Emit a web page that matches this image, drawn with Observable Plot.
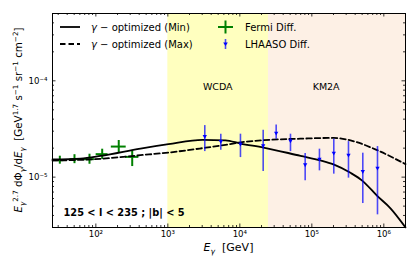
<!DOCTYPE html>
<html><head><meta charset="utf-8">
<script src="https://cdn.jsdelivr.net/npm/d3@7"></script>
<script src="https://cdn.jsdelivr.net/npm/@observablehq/plot@0.6"></script>
<style>body{margin:0;background:#fff} #chart svg{font-family:"DejaVu Sans",sans-serif;overflow:visible}</style>
</head><body><div id="chart"></div>
<script>
// ---- data ----
const minCurveE    = [25, 61.2, 116, 417, 1021, 3029, 6320, 10210, 21300, 69570, 131900, 199800, 344200, 505200, 808600, 1.237e6, 2e6];
const minCurveFlux = [1.53e-5, 1.56e-5, 1.66e-5, 1.98e-5, 2.20e-5, 2.44e-5, 2.41e-5, 2.23e-5, 2.03e-5, 1.663e-5, 1.493e-5, 1.357e-5, 1.108e-5, 9.15e-6, 6.39e-6, 4.75e-6, 3.01e-6];
const maxCurveE    = [25, 116, 417, 1021, 3029, 6320, 10210, 21300, 69570, 199800, 344200, 808600, 2e6];
const maxCurveFlux = [1.486e-5, 1.548e-5, 1.69e-5, 1.799e-5, 1.999e-5, 2.163e-5, 2.296e-5, 2.419e-5, 2.507e-5, 2.556e-5, 2.407e-5, 1.905e-5, 1.364e-5];

const fermiE    = [31.6, 50.5, 81.6, 122.5, 208, 320];
const fermiElo  = [27.8, 43.8, 69.5, 101, 164, 258];
const fermiEhi  = [35.9, 58.3, 95.8, 148, 264, 396];
const fermiFlux = [1.50e-5, 1.537e-5, 1.537e-5, 1.732e-5, 2.077e-5, 1.623e-5];
const fermiLo   = [1.363e-5, 1.38e-5, 1.36e-5, 1.53e-5, 1.80e-5, 1.288e-5];
const fermiHi   = [1.65e-5, 1.71e-5, 1.73e-5, 1.95e-5, 2.40e-5, 1.874e-5];

const lhaasoE    = [3260, 5440, 10200, 21100, 31970, 50520, 80800, 127600, 201800, 322900, 510400, 816600];
const lhaasoFlux = [2.638e-5, 2.339e-5, 2.199e-5, 2.112e-5, 2.86e-5, 2.379e-5, 1.341e-5, 1.537e-5, 1.773e-5, 1.69e-5, 1.143e-5, 1.24e-5];
const lhaasoHi   = [3.43e-5, 2.793e-5, 2.793e-5, 3.073e-5, 3.487e-5, 2.793e-5, 1.756e-5, 1.952e-5, 2.478e-5, 2.339e-5, 1.773e-5, 2.077e-5];
const lhaasoLo   = [1.842e-5, 1.905e-5, 1.596e-5, 1.143e-5, 2.478e-5, 1.842e-5, 9.15e-6, 1.162e-5, 1.074e-5, 9.76e-6, 5.32e-6, 4.06e-6];

const bandNames = ["WCDA", "KM2A"];
const bandStart = [1e3, 2.5e4];
const bandEnd   = [2.5e4, 2e6];
const bandLabelE = [4940, 1.58e5];
const bandLabelFlux = 8.6e-5;

const xMajor = [1e2, 1e3, 1e4, 1e5, 1e6];
const xMajorLabels = ["10²", "10³", "10⁴", "10⁵", "10⁶"];
const yMajor = [1e-5, 1e-4];
const yMajorLabels = ["10⁻⁵", "10⁻⁴"];
const regionText = "125 < l < 235 ; |b| < 5";

// ---- tables ----
const minCurve = minCurveE.map((e, i) => ({e, f: minCurveFlux[i]}));
const maxCurve = maxCurveE.map((e, i) => ({e, f: maxCurveFlux[i]}));
const fermi = fermiE.map((e, i) => ({e, lo: fermiElo[i], hi: fermiEhi[i], f: fermiFlux[i], flo: fermiLo[i], fhi: fermiHi[i]}));
const lhaaso = lhaasoE.map((e, i) => ({e, f: lhaasoFlux[i], lo: lhaasoLo[i], hi: lhaasoHi[i]}));
const bands = bandNames.map((n, i) => ({n, x1: bandStart[i], x2: bandEnd[i], lx: bandLabelE[i]}));

const W = 417, H = 271, mL = 52, mR = 12, mT = 13, mB = 44;
const iW = W - mL - mR, iH = H - mT - mB;
const xDomain = [25, 2e6], yDomain = [3e-6, 5e-4];

const xMinor = [], yMinor = [];
for (let k = 1; k <= 6; k++) for (let m = 2; m <= 9; m++) { const v = m * 10 ** k; if (v > xDomain[0] && v < xDomain[1]) xMinor.push(v); }
for (let k = -6; k <= -4; k++) for (let m = 2; m <= 9; m++) { const v = m * 10 ** k; if (v > yDomain[0] && v < yDomain[1]) yMinor.push(v); }

const tri = {draw(ctx, size) { const s = Math.sqrt(size) * 1.1; ctx.moveTo(-s/2, -s*0.35); ctx.lineTo(s/2, -s*0.35); ctx.lineTo(0, s*0.55); ctx.closePath(); }};

const tickStyle = {stroke: "black", strokeWidth: 0.8};
const chart = Plot.plot({
  width: W, height: H, marginLeft: mL, marginRight: mR, marginTop: mT, marginBottom: mB,
  x: {type: "log", domain: xDomain},
  y: {type: "log", domain: yDomain},
  style: {fontFamily: "DejaVu Sans", background: "white"},
  marks: [
    Plot.rect(bands, {x1: "x1", x2: "x2", fill: (d, i) => i === 0 ? "#ffffbf" : "#fdf0e5"}),
    Plot.text(bands, {x: "lx", y: () => bandLabelFlux, text: "n", fontSize: 9.5, fill: "black"}),
    Plot.ruleX(fermi, {x: "e", y1: "flo", y2: "fhi", stroke: "green", strokeWidth: 2}),
    Plot.ruleY(fermi, {y: "f", x1: "lo", x2: "hi", stroke: "green", strokeWidth: 2}),
    Plot.line(minCurve, {x: "e", y: "f", stroke: "black", strokeWidth: 1.8, curve: "monotone-x"}),
    Plot.line(maxCurve, {x: "e", y: "f", stroke: "black", strokeWidth: 1.8, strokeDasharray: "5.5,3", curve: "monotone-x"}),
    Plot.ruleX(lhaaso, {x: "e", y1: "lo", y2: "hi", stroke: "blue", strokeOpacity: 0.7, strokeWidth: 1.6}),
    Plot.dot(lhaaso, {x: "e", y: "f", symbol: tri, r: 2.2, fill: "blue", stroke: "none"}),
    // axis ticks (inward, all four sides)
    Plot.ruleX(xMajor, {...tickStyle, insetTop: iH - 3.5}),
    Plot.ruleX(xMajor, {...tickStyle, insetBottom: iH - 3.5}),
    Plot.ruleX(xMinor, {...tickStyle, insetTop: iH - 2}),
    Plot.ruleX(xMinor, {...tickStyle, insetBottom: iH - 2}),
    Plot.ruleY(yMajor, {...tickStyle, insetRight: iW - 3.5}),
    Plot.ruleY(yMajor, {...tickStyle, insetLeft: iW - 3.5}),
    Plot.ruleY(yMinor, {...tickStyle, insetRight: iW - 2}),
    Plot.ruleY(yMinor, {...tickStyle, insetLeft: iW - 2}),
    Plot.axisX({ticks: xMajor, tickSize: 0, tickPadding: 3, tickFormat: (d) => xMajorLabels[xMajor.indexOf(d)], fontSize: 8.6, label: null}),
    Plot.axisY({ticks: yMajor, tickSize: 0, tickPadding: 5, tickFormat: (d) => yMajorLabels[yMajor.indexOf(d)], fontSize: 8.6, label: null}),
    Plot.text([regionText], {frameAnchor: "bottom-left", dx: 11, dy: -12, text: (d) => d, fontWeight: "bold", fontSize: 9.8, textAnchor: "start", fill: "black"}),
    Plot.frame({stroke: "black", strokeWidth: 1})
  ]
});
document.getElementById("chart").appendChild(chart);

// ---- rich-text labels and legend ----
const svg = d3.select(chart);
function rich(g, parts, size) {
  let cur = 0;
  for (const [t, mode, it] of parts) {
    const shift = mode === "sup" ? -0.42 * size : mode === "sub" ? 0.28 * size : 0;
    g.append("tspan").attr("dy", shift - cur).attr("font-size", mode ? size * 0.7 : size)
      .attr("font-style", it ? "italic" : null).text(t);
    cur = shift;
  }
}
const yl = svg.append("text").attr("transform", `translate(22,${mT + iH / 2}) rotate(-90)`).attr("text-anchor", "middle").attr("fill", "black");
rich(yl, [["E", 0, 1], ["γ", "sub", 1], ["2.7", "sup"], [" dΦ", 0], ["γ", "sub", 1], ["/d", 0], ["E", 0, 1], ["γ", "sub", 1], ["  [GeV", 0], ["1.7", "sup"], [" s", 0], ["−1", "sup"], [" sr", 0], ["−1", "sup"], [" cm", 0], ["−2", "sup"], ["]", 0]], 10.3);

const xl = svg.append("text").attr("x", mL + iW / 2).attr("y", 251).attr("text-anchor", "middle").attr("fill", "black");
rich(xl, [["E", 0, 1], ["γ", "sub", 1], ["  [GeV]", 0]], 11);

const lg = svg.append("g").attr("font-size", 10).attr("fill", "black").attr("text-anchor", "start");
lg.append("line").attr("x1", 60).attr("x2", 80).attr("y1", 27).attr("y2", 27).attr("stroke", "black").attr("stroke-width", 1.8);
lg.append("line").attr("x1", 60).attr("x2", 80).attr("y1", 44).attr("y2", 44).attr("stroke", "black").attr("stroke-width", 1.8).attr("stroke-dasharray", "5.5,3");
for (const [y, lab] of [[30.5, "Min"], [47.5, "Max"]]) {
  const t = lg.append("text").attr("x", 91).attr("y", y);
  t.append("tspan").attr("font-style", "italic").text("γ");
  t.append("tspan").text(" − optimized (" + lab + ")");
}
lg.append("line").attr("x1", 218).attr("x2", 233).attr("y1", 27).attr("y2", 27).attr("stroke", "green").attr("stroke-width", 2);
lg.append("line").attr("x1", 225.5).attr("x2", 225.5).attr("y1", 20.5).attr("y2", 33.5).attr("stroke", "green").attr("stroke-width", 2);
lg.append("line").attr("x1", 225.5).attr("x2", 225.5).attr("y1", 39).attr("y2", 49).attr("stroke", "blue").attr("stroke-opacity", 0.7).attr("stroke-width", 1.6);
lg.append("path").attr("d", "M223.2,42.5L227.8,42.5L225.5,46Z").attr("fill", "blue");
lg.append("text").attr("x", 245).attr("y", 30.5).text("Fermi Diff.");
lg.append("text").attr("x", 245).attr("y", 47.5).text("LHAASO Diff.");
</script></body></html>
